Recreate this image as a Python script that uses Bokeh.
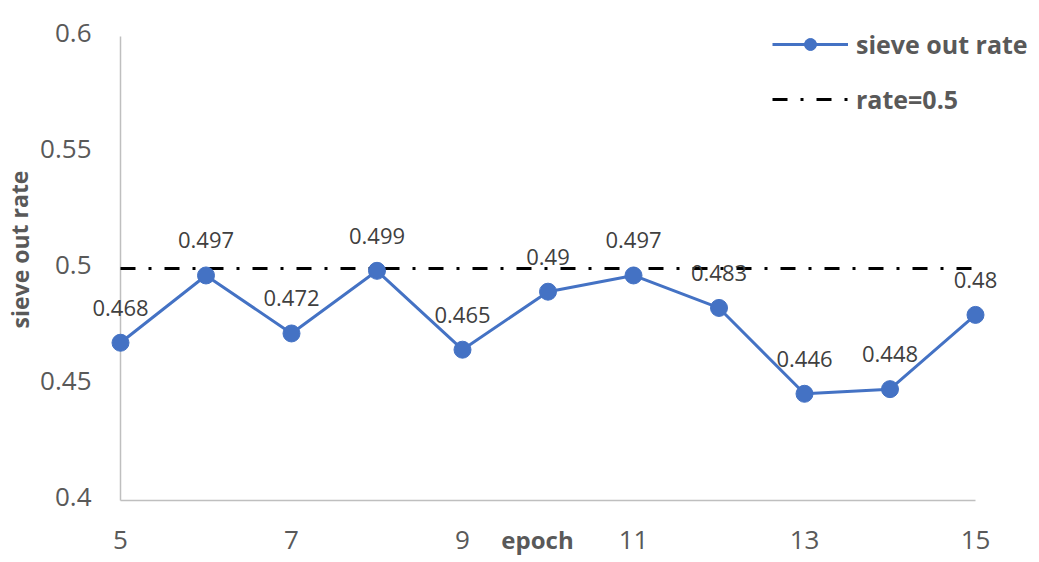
from bokeh.plotting import figure
from bokeh.models import ColumnDataSource, Legend, LegendItem, Range1d
from bokeh.core.properties import value
from bokeh.embed import file_html
from bokeh.resources import INLINE

epochs = [5, 6, 7, 8, 9, 10, 11, 12, 13, 14, 15]
rates = [0.468, 0.497, 0.472, 0.499, 0.465, 0.49, 0.497, 0.483, 0.446, 0.448, 0.48]
ref_rate = 0.5
x_ticks = [5, 7, 9, 11, 13, 15]
x_tick_labels = ["5", "7", "9", "11", "13", "15"]
y_ticks = [0.4, 0.45, 0.5, 0.55, 0.6]
y_tick_labels = ["0.4", "0.45", "0.5", "0.55", "0.6"]
x_min, x_max = 5, 15
y_min, y_max = 0.4, 0.6

FONT = "Open Sans"
GREY = "#595959"
BLUE = "#4472C4"
AXIS = "#bfbfbf"

W, H = 1039, 562
L, R, T, B = 120, 975, 36, 500
sx = (R - L) / (x_max - x_min)
sy = (B - T) / (y_max - y_min)

p = figure(width=W, height=H, output_backend="svg", toolbar_location=None,
           x_axis_location=None, y_axis_location=None,
           x_range=Range1d(x_min - L / sx, x_max + (W - R) / sx),
           y_range=Range1d(y_min - (H - B) / sy, y_max + T / sy),
           min_border=0)
p.outline_line_color = None
p.grid.grid_line_color = None
p.background_fill_color = "white"
p.border_fill_color = "white"

# axis lines
p.segment(x0=[x_min, x_min], y0=[y_min, y_min], x1=[x_max, x_min], y1=[y_min, y_max],
          line_color=AXIS, line_width=1.5)

# tick labels
p.text(x=x_ticks, y=[y_min] * len(x_ticks), text=x_tick_labels, y_offset=39,
       text_align="center", text_baseline="middle", text_font=value(FONT),
       text_font_size="26px", text_color=GREY)
p.text(x=[x_min] * len(y_ticks), y=y_ticks, text=y_tick_labels, x_offset=-29, y_offset=-4,
       text_align="right", text_baseline="middle", text_font=value(FONT),
       text_font_size="26px", text_color=GREY)

# axis titles
p.text(x=[x_min + 4.877], y=[y_min], text=["epoch"], y_offset=39,
       text_align="center", text_baseline="middle", text_font=value(FONT),
       text_font_size="24px", text_font_style="bold", text_color=GREY)
p.text(x=[x_min], y=[y_max - 0.1], text=["sieve out rate"], x_offset=-101, y_offset=-19,
       angle=1.5708, text_align="center", text_baseline="middle", text_font=value(FONT),
       text_font_size="23px", text_font_style="bold", text_color=GREY)

ref = p.line(x=[x_min, x_max], y=[ref_rate, ref_rate], line_color="black",
             line_width=3, line_dash="15 13 3 13")

src = ColumnDataSource(dict(x=epochs, y=rates, lbl=[f"{v:g}" for v in rates]))
ln = p.line("x", "y", source=src, line_color=BLUE, line_width=3)
sc = p.scatter("x", "y", source=src, size=17, fill_color=BLUE, line_color=BLUE)

p.text("x", "y", text="lbl", source=src, y_offset=-35, text_align="center",
       text_baseline="middle", text_font_size="22px", text_color="#404040",
       text_font=value(FONT))

legend = Legend(items=[LegendItem(label="sieve out rate", renderers=[ln, sc]),
                       LegendItem(label="rate=0.5", renderers=[ref])],
                location=(772, H - 116), orientation="vertical",
                glyph_width=76, glyph_height=30, label_height=30, label_standoff=8,
                spacing=21, padding=0, margin=0,
                label_text_font=FONT, label_text_font_size="25px",
                label_text_font_style="bold", label_text_color=GREY,
                border_line_color=None, background_fill_alpha=0)
p.add_layout(legend, "center")

open("out.html", "w").write(file_html(p, INLINE))
